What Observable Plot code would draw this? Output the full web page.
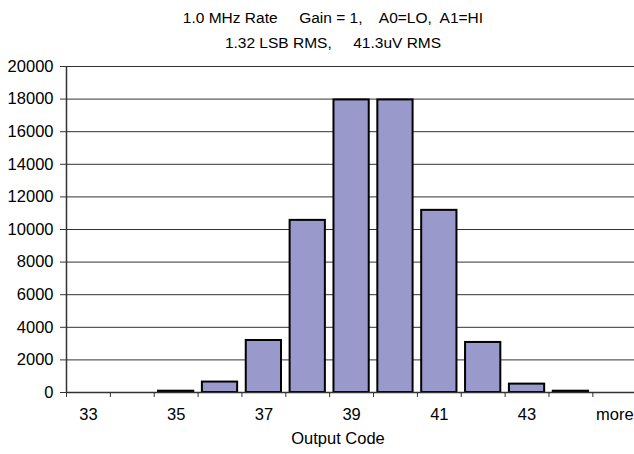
<!DOCTYPE html>
<html>
<head>
<meta charset="utf-8">
<script src="https://cdn.jsdelivr.net/npm/d3@7"></script>
<script src="https://cdn.jsdelivr.net/npm/@observablehq/plot@0.6"></script>
<style>
  html, body { margin: 0; padding: 0; background: #fff; overflow: hidden; }
  body { position: relative; width: 634px; height: 454px; font-family: "Liberation Sans", Arial, sans-serif; color: #000; }
  .txt { position: absolute; left: 0; width: 666px; text-align: center; white-space: pre; font-size: 15.5px; line-height: 20px; z-index: 2; }
  #chart { position: absolute; left: 0; top: 0; z-index: 1; }
</style>
</head>
<body>
<div id="chart"></div>
<div class="txt" id="t1" style="top:8px">1.0 MHz Rate     Gain = 1,    A0=LO,  A1=HI</div>
<div class="txt" id="t2" style="top:32.7px">1.32 LSB RMS,     41.3uV RMS</div>
<div class="txt" id="xl" style="top:428px; width:676px; font-size:16.5px">Output Code</div>
<script>
const codes = ["33","34","35","36","37","38","39","40","41","42","43","44","more"];
const counts = [0, 0, 80, 640, 3190, 10560, 17950, 17950, 11175, 3070, 515, 80, 0];
const xTickLabels = ["33","35","37","39","41","43","more"];
const yTicks = [0, 2000, 4000, 6000, 8000, 10000, 12000, 14000, 16000, 18000, 20000];

const data = codes.map((code, i) => ({i, code, count: counts[i]}));
const boundaries = codes.map((c, i) => i);
const labelPos = new Map(xTickLabels.map(l => [codes.indexOf(l) + 0.5, l]));

const chart = Plot.plot({
  width: 634,
  height: 454,
  marginLeft: 66,
  marginRight: 0,
  marginTop: 66,
  marginBottom: 62,
  style: {fontFamily: '"Liberation Sans", Arial, sans-serif', fontSize: "16.5px", color: "#000", background: "transparent", overflow: "visible"},
  x: {domain: [0, codes.length], range: [66, 636.2]},
  y: {domain: [0, 20000]},
  marks: [
    Plot.ruleY(yTicks.slice(1), {stroke: "#333", strokeWidth: 1}),
    Plot.rectY(data.filter(d => d.count > 0), {
      x1: d => d.i, x2: d => d.i + 1, y: "count",
      fill: "#9999CC", stroke: "#000", strokeWidth: 2,
      insetLeft: 4.3, insetRight: 4.3
    }),
    Plot.ruleY([0], {stroke: "#333", strokeWidth: 1.5}),
    Plot.ruleX([0], {stroke: "#333", strokeWidth: 1.5}),
    Plot.axisY(yTicks, {tickSize: 6, tickPadding: 7, tickFormat: d3.format("d"), label: null, stroke: "#333"}),
    Plot.axisX(boundaries, {tickSize: 5, tickFormat: () => "", label: null, stroke: "#333"}),
    Plot.axisX([...labelPos.keys()], {tickSize: 0, tickPadding: 16, tickFormat: d => labelPos.get(d), label: null})
  ]
});
document.getElementById("chart").appendChild(chart);
</script>
</body>
</html>
